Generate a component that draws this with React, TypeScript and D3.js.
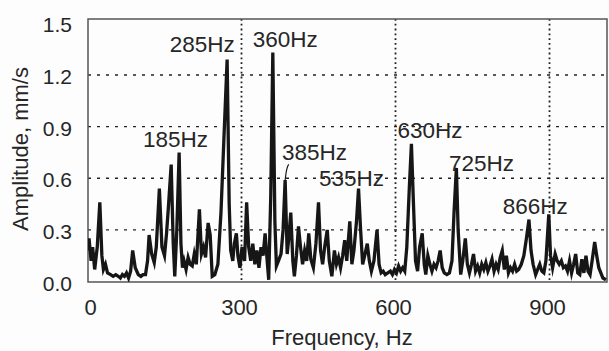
import React from 'react';
import * as d3 from 'd3';

// spectrum: frequency (Hz) and amplitude (mm/s)
const freqs = [
  0, 3, 7, 10, 14, 19, 24, 28, 31, 35, 39, 45, 50, 55, 60, 64, 68, 72, 76, 80, 84, 88, 93, 99,
  104, 108, 113, 117, 120, 125, 130, 134, 140, 145, 150, 154, 158, 163, 167, 170, 174, 178.5,
  182, 185, 188, 192, 196, 200, 204, 208, 212, 218, 222, 226, 230, 235, 239, 243, 248, 254, 260,
  266, 272, 276, 279, 283, 286, 290, 293, 297, 301, 306, 310, 314, 318, 322, 326, 330, 334, 338,
  342, 346, 350, 353, 357, 361, 365, 368, 372, 377, 381, 385, 389, 392, 396, 400, 403, 407, 411,
  415, 419, 423, 427, 431, 435, 440, 445, 450, 454, 458, 462, 467, 471, 476, 481, 485, 489, 493,
  497, 501, 505, 511, 515, 519, 524, 528, 532, 536, 540, 545, 549, 553, 558, 564, 568, 572, 576,
  580, 585, 590, 594, 598, 602, 606, 610, 614, 618, 622, 627, 631, 635, 639, 643, 647, 652, 656,
  659, 663, 667, 671, 675, 679, 683, 687, 691, 695, 700, 705, 710, 714, 718.6, 722, 727, 731, 736,
  740, 744, 748, 752, 756, 760, 764, 768, 772, 776, 780, 784, 788, 792, 796, 800, 804, 808, 812,
  816, 820, 824, 828, 832, 836, 840, 845, 850, 855, 860, 864, 868, 873, 877, 881, 885, 889, 893,
  898.6, 902, 906, 911, 915, 919, 923, 927, 931, 935, 939, 943, 947, 951, 955, 959, 963, 967, 971,
  975, 979, 983, 988, 992, 996, 1000, 1004, 1010,
];
const amps = [
  0.18, 0.25, 0.12, 0.2, 0.07, 0.2, 0.46, 0.15, 0.07, 0.1, 0.05, 0.04, 0.03, 0.04, 0.03, 0.02, 0.04, 0.03, 0.05, 0.02, 0.06, 0.18, 0.08, 0.04,
  0.03, 0.04, 0.04, 0.12, 0.27, 0.16, 0.11, 0.2, 0.54, 0.2, 0.15, 0.28, 0.45, 0.68, 0.22, 0.03, 0.3, 0.75,
  0.22, 0.08, 0.12, 0.07, 0.14, 0.1, 0.09, 0.16, 0.1, 0.42, 0.16, 0.2, 0.14, 0.34, 0.27, 0.03, 0.04, 0.1, 0.4,
  0.85, 1.29, 0.45, 0.18, 0.12, 0.22, 0.28, 0.15, 0.08, 0.2, 0.12, 0.46, 0.2, 0.12, 0.22, 0.1, 0.18, 0.08, 0.2,
  0.15, 0.28, 0.12, 0.01, 0.5, 1.33, 0.35, 0.09, 0.12, 0.16, 0.3, 0.59, 0.16, 0.25, 0.4, 0.12, 0.03, 0.15, 0.32,
  0.2, 0.1, 0.18, 0.12, 0.28, 0.13, 0.08, 0.22, 0.46, 0.18, 0.1, 0.2, 0.3, 0.12, 0.03, 0.18, 0.1, 0.14, 0.08,
  0.15, 0.24, 0.12, 0.35, 0.1, 0.18, 0.35, 0.54, 0.3, 0.1, 0.15, 0.22, 0.12, 0.06, 0.12, 0.3, 0.1, 0.05, 0.06,
  0.04, 0.05, 0.06, 0.04, 0.07, 0.05, 0.09, 0.06, 0.08, 0.06, 0.2, 0.55, 0.8, 0.45, 0.12, 0.06, 0.2, 0.28, 0.1,
  0.04, 0.15, 0.1, 0.06, 0.1, 0.08, 0.12, 0.18, 0.08, 0.05, 0.04, 0.05, 0.12, 0.4, 0.66, 0.3, 0.04, 0.12, 0.25,
  0.1, 0.05, 0.1, 0.16, 0.06, 0.09, 0.05, 0.1, 0.07, 0.11, 0.06, 0.09, 0.13, 0.06, 0.1, 0.07, 0.14, 0.18, 0.07,
  0.15, 0.05, 0.08, 0.06, 0.1, 0.06, 0.07, 0.1, 0.15, 0.25, 0.36, 0.18, 0.1, 0.04, 0.07, 0.1, 0.06, 0.05, 0.12,
  0.39, 0.15, 0.08, 0.16, 0.12, 0.1, 0.12, 0.08, 0.09, 0.06, 0.12, 0.05, 0.1, 0.16, 0.05, 0.04, 0.13, 0.05, 0.15,
  0.06, 0.04, 0.12, 0.23, 0.15, 0.08, 0.05, 0.02, 0.01,
];

const xTicks = [0, 300, 600, 900];
const yTicks = [0, 0.3, 0.6, 0.9, 1.2, 1.5];

// peak labels: text, anchor frequency, anchor amplitude (left/baseline of text)
const peakLabels = ['285Hz', '360Hz', '185Hz', '385Hz', '535Hz', '630Hz', '725Hz', '866Hz'];
const labelFreqs = [160, 322, 108, 379, 451, 604, 704, 809];
const labelAmps = [1.332, 1.36, 0.78, 0.706, 0.556, 0.836, 0.645, 0.395];

const W = 609;
const H = 351;
const plot = { left: 88, right: 607, top: 19, bottom: 282 };

const font = '"Liberation Sans", Arial, sans-serif';
const ink = '#262626';

export default function App() {
  const x = d3.scaleLinear().domain([0, 1012]).range([87.5, 607]);
  const y = d3.scaleLinear().domain([0, 1.2]).range([281.5, 75]);

  const pts = freqs.map((f, i) => [f, amps[i]] as [number, number]);
  const line = d3.line<[number, number]>()
    .x(d => x(d[0]))
    .y(d => y(d[1]));

  // little leader from the 385Hz peak up to its label
  const leader = `M${x(385)},${y(0.59)} C${x(387)},${y(0.63)} ${x(387)},${y(0.66)} ${x(392)},${y(0.68)}`;

  return (
    <div style={{ position: 'fixed', left: 0, top: 0, background: '#fdfdfd' }}>
      <svg width={W} height={H} style={{ display: 'block' }} fontFamily={font}>
        <rect x={0} y={0} width={W} height={H} fill="#fdfdfd" />
        <defs>
          <clipPath id="plotclip">
            <rect x={plot.left} y={plot.top} width={plot.right - plot.left} height={plot.bottom - plot.top} />
          </clipPath>
        </defs>

        {/* grid */}
        {yTicks.filter(v => v > 0 && v < 1.5).map(v => (
          <line key={'gy' + v} x1={plot.left} x2={plot.right} y1={y(v)} y2={y(v)}
            stroke="#222" strokeWidth={1.4} strokeDasharray="3,6" />
        ))}
        {xTicks.filter(v => v > 0).map(v => (
          <line key={'gx' + v} x1={x(v)} x2={x(v)} y1={plot.top} y2={plot.bottom}
            stroke="#222" strokeWidth={1.8} strokeDasharray="1.8,3" />
        ))}

        {/* frame */}
        <rect x={plot.left} y={plot.top} width={plot.right - plot.left} height={plot.bottom - plot.top}
          fill="none" stroke="#555" strokeWidth={1.5} />

        {/* spectrum */}
        <path d={line(pts) || ''} fill="none" stroke="#161616" strokeWidth={3.3}
          strokeLinejoin="miter" strokeMiterlimit={6} clipPath="url(#plotclip)" />
        <path d={leader} fill="none" stroke="#161616" strokeWidth={1.2} />

        {/* peak labels */}
        {peakLabels.map((t, i) => (
          <text key={t} x={x(labelFreqs[i])} y={y(labelAmps[i])} fontSize={22.5} fill={ink}>{t}</text>
        ))}

        {/* axes labels */}
        {yTicks.map(v => (
          <text key={'ty' + v} x={72} y={y(v) + 1.5} dy="0.36em" textAnchor="end" fontSize={21} fill={ink}>
            {v.toFixed(1)}
          </text>
        ))}
        {xTicks.map(v => (
          <text key={'tx' + v} x={x(v) + (v === 0 ? 3 : -2)} y={315} textAnchor="middle" fontSize={22} fill={ink}>
            {v}
          </text>
        ))}
        <text x={342} y={345} textAnchor="middle" fontSize={22} fill={ink}>Frequency, Hz</text>
        <text transform="translate(28,149) rotate(-90)" textAnchor="middle" fontSize={22} fill={ink}>
          Amplitude, mm/s
        </text>
      </svg>
    </div>
  );
}
